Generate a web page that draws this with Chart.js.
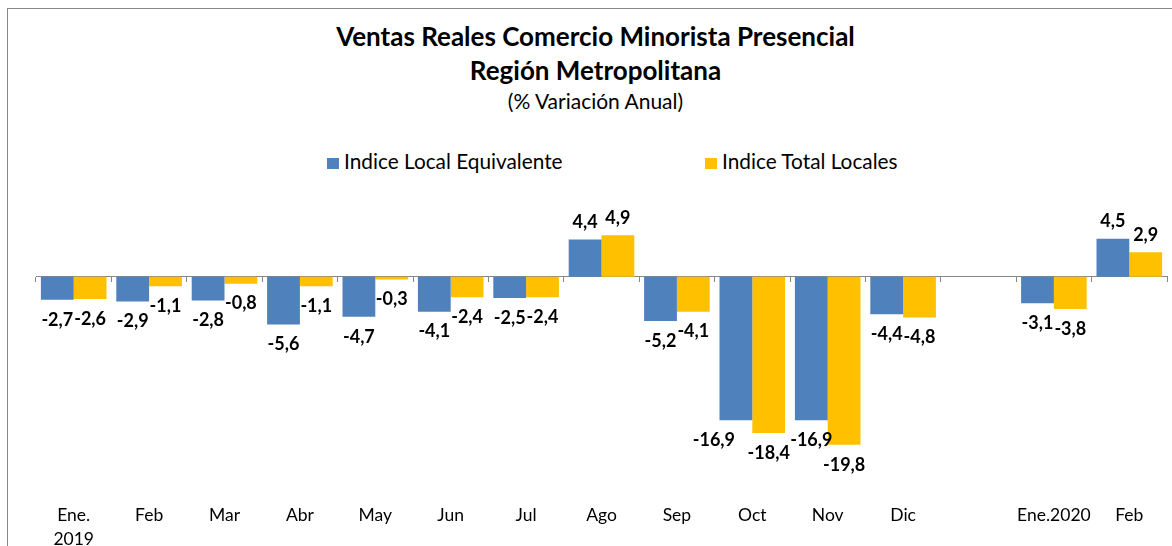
<!DOCTYPE html>
<html>
<head>
<meta charset="utf-8">
<script src="https://cdn.jsdelivr.net/npm/chart.js@4.4.0/dist/chart.umd.min.js"></script>
<style>
  html, body { margin: 0; padding: 0; background: #fff; }
  body { width: 1172px; height: 546px; overflow: hidden; position: relative; font-family: Lato, sans-serif; color: #000; }
  .frame { position: absolute; left: 7px; top: 8px; width: 1300px; height: 700px; border: 1px solid #878787; }
  .txt { position: absolute; left: 0; width: 1191px; text-align: center; line-height: 1; white-space: nowrap; }
  .title { font-weight: bold; font-size: 26px; }
  .sub { font-size: 21px; }
  .leg { position: absolute; font-size: 20.8px; line-height: 1; white-space: nowrap; }
  .box { position: absolute; width: 12px; height: 11px; }
  canvas { position: absolute; left: 0; top: 0; }
</style>
</head>
<body>
<div class="frame"></div>
<div class="txt title" style="top:23px">Ventas Reales Comercio Minorista Presencial</div>
<div class="txt title" style="top:57px">Región Metropolitana</div>
<div class="txt sub" style="top:90px">(% Variación Anual)</div>
<div class="box" id="box0" style="left:327px; top:158px"></div>
<div class="leg" id="leg0" style="left:344px; top:151px"></div>
<div class="box" id="box1" style="left:705px; top:158px"></div>
<div class="leg" id="leg1" style="left:722px; top:151px"></div>
<canvas id="chart" width="1172" height="577"></canvas>
<script>
const categories = [['Ene.', '2019'], 'Feb', 'Mar', 'Abr', 'May', 'Jun', 'Jul', 'Ago', 'Sep', 'Oct', 'Nov', 'Dic', '', 'Ene.2020', 'Feb'];
const localEquivalente = [-2.7, -2.9, -2.8, -5.6, -4.7, -4.1, -2.5, 4.4, -5.2, -16.9, -16.9, -4.4, null, -3.1, 4.5];
const totalLocales = [-2.6, -1.1, -0.8, -1.1, -0.3, -2.4, -2.4, 4.9, -4.1, -18.4, -19.8, -4.8, null, -3.8, 2.9];
const seriesNames = ['Indice Local Equivalente', 'Indice Total Locales'];
const seriesColors = ['#4F81BD', '#FFC000'];
const yMin = -25;
const yMax = 10;

// legend in html, colours and names from the same arrays
seriesNames.forEach((name, i) => {
    document.getElementById('leg' + i).textContent = name;
    document.getElementById('box' + i).style.background = seriesColors[i];
});

// value labels above / below each bar, comma decimals
const valueLabels = {
    id: 'valueLabels',
    afterDatasetsDraw(chart, args, opts) {
        const ctx = chart.ctx;
        ctx.save();
        ctx.font = 'bold 18px Lato';
        ctx.fillStyle = '#000';
        ctx.textAlign = 'center';
        ctx.textBaseline = 'middle';
        chart.data.datasets.forEach((ds, di) => {
            chart.getDatasetMeta(di).data.forEach((bar, i) => {
                const v = ds.data[i];
                if (v === null || v === undefined) return;
                const dx = opts.nudge[di + '-' + i] || 0;
                const y = v >= 0 ? bar.y - 17 : bar.y + 20;
                ctx.fillText(v.toFixed(1).replace('.', ','), bar.x + dx, y);
            });
        });
        ctx.restore();
    }
};

new Chart(document.getElementById('chart'), {
    type: 'bar',
    data: {
        labels: categories,
        datasets: [
            { label: seriesNames[0], data: localEquivalente, backgroundColor: seriesColors[0] },
            { label: seriesNames[1], data: totalLocales, backgroundColor: seriesColors[1] }
        ]
    },
    options: {
        responsive: false,
        animation: false,
        devicePixelRatio: 1,
        categoryPercentage: 0.87,
        barPercentage: 1,
        layout: { padding: { left: 36, right: 5, top: 192, bottom: 11 } },
        plugins: {
            legend: { display: false },
            title: { display: false },
            tooltip: { enabled: false },
            valueLabels: { nudge: { '0-9': -22 } }
        },
        scales: {
            x: {
                type: 'category',
                grid: { display: false, drawTicks: false },
                border: { display: false },
                ticks: {
                    autoSkip: false,
                    maxRotation: 0,
                    padding: 14,
                    color: '#000',
                    font: { family: 'Lato', size: 17.5, lineHeight: 1.4 }
                }
            },
            // zero line with the little category ticks
            x2: {
                type: 'category',
                position: { y: 0 },
                offset: true,
                grid: { offset: true, drawOnChartArea: false, drawTicks: true, tickLength: 5, color: '#878787' },
                border: { display: true, color: '#878787', width: 1 },
                ticks: { display: false }
            },
            y: {
                display: false,
                min: yMin,
                max: yMax
            }
        }
    },
    plugins: [valueLabels]
});
</script>
</body>
</html>
